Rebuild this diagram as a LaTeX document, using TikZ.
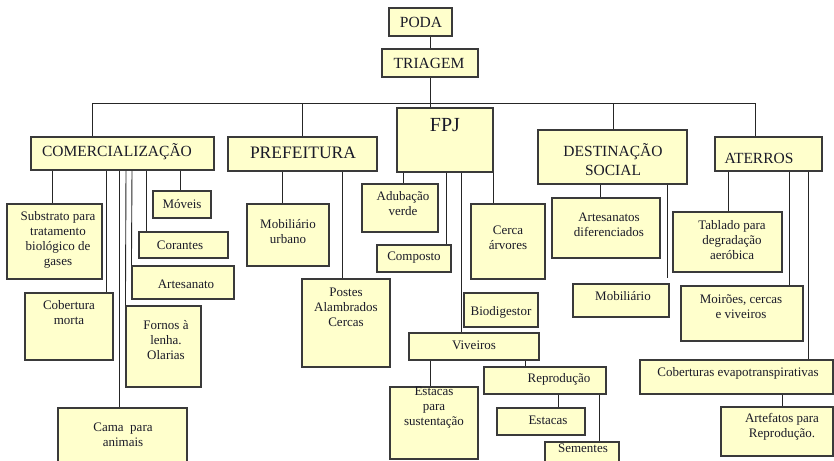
\documentclass[tikz,border=0pt]{standalone}
\usepackage{fontspec}
\setmainfont{Liberation Serif}
\usetikzlibrary{fit}
\definecolor{boxfill}{HTML}{FFFFCC}
\definecolor{boxline}{HTML}{3A3A3A}
\definecolor{txtcol}{HTML}{1A1A28}
\newcommand\mybox[5]{\node[bx, fit={(#2,#3) (#4,#5)}] (#1) {};}
\begin{document}
\begin{tikzpicture}[x=1pt,y=-1pt,
  bx/.style={draw=boxline, line width=1.1pt, fill=boxfill, inner sep=0pt},
  tx/.style={font=\fontsize{13}{15}\selectfont, align=center, inner sep=0pt, text=txtcol},
  hd/.style={font=\fontsize{15.5}{19}\selectfont, align=center, inner sep=0pt, text=txtcol},
  ln/.style={draw=black!85, line width=0.9pt}]
\useasboundingbox[fill=white] (0,0) rectangle (834,460);

% ---- connectors (drawn first, boxes on top) ----
\coordinate (barL) at (92,103);
\coordinate (barR) at (755,103);

% ---- boxes ----
\mybox{poda}{389}{8}{452}{36}
\mybox{tri}{382}{49}{478}{77}
\mybox{comm}{31}{137}{214}{170}
\mybox{pref}{228}{137}{377}{171}
\mybox{fpj}{397}{108}{493}{172}
\mybox{dest}{538}{130}{687}{184}
\mybox{ater}{715}{137}{822}{171}

\mybox{sub}{7}{204}{102}{279}
\mybox{cob}{25}{293}{113}{360}
\mybox{cama}{58}{408}{187}{470}
\mybox{fornos}{126}{306}{201}{387}
\mybox{artes}{132}{266}{234}{299}
\mybox{cor}{139}{232}{228}{258}
\mybox{mov}{153}{191}{211}{218}

\mybox{mob}{247}{204}{329}{266}
\mybox{post}{302}{279}{390}{367}

\mybox{adub}{362}{184}{438}{232}
\mybox{comp}{377}{245}{451}{272}
\mybox{cerca}{471}{204}{545}{279}
\mybox{bio}{464}{293}{538}{327}
\mybox{viv}{409}{333}{539}{360}
\mybox{est1}{390}{387}{478}{459}
\mybox{rep}{484}{367}{606}{394}
\mybox{est2}{497}{408}{585}{435}
\mybox{sem}{545}{442}{619}{470}

\mybox{artd}{552}{198}{660}{258}
\mybox{mobl}{573}{284}{669}{317}
\mybox{tab}{673}{212}{782}{272}
\mybox{moi}{681}{286}{803}{341}
\mybox{cobev}{640}{360}{833}{394}
\mybox{artef}{721}{407}{833}{456}

% ---- connectors ----
\begin{scope}[on background layer/.style={}]
\draw[ln] (poda.south -| 430,0) -- (tri.north -| 430,0);
\draw[ln] (tri.south -| 430,0) -- (fpj.north -| 430,0);
\draw[ln] (comm.north -| barL) -- (barL) -- (barR) -- (ater.north -| barR);
\draw[ln] (pref.north -| 302,0) -- (302,103);
\draw[ln] (dest.north -| 613,0) -- (613,103);

\draw[ln] (comm.south -| 52,0) -- (sub.north -| 52,0);
\draw[ln] (comm.south -| 106,0) -- (cob.north -| 106,0);
\draw[ln] (comm.south -| 119,0) -- (cama.north -| 119,0);
\draw[ln] (comm.south -| 126,0) -- (fornos.north west);
\draw[ln] (comm.south -| 132,0) -- (artes.north west);
\draw[ln] (comm.south -| 146,0) -- (cor.north -| 146,0);
\draw[ln] (comm.south -| 180,0) -- (mov.north -| 180,0);

\draw[ln] (pref.south -| 282,0) -- (mob.north -| 282,0);
\draw[ln] (pref.south -| 342,0) -- (post.north -| 342,0);

\draw[ln] (fpj.south -| 403,0) -- (adub.north -| 403,0);
\draw[ln] (fpj.south -| 446,0) -- (comp.north -| 446,0);
\draw[ln] (fpj.south -| 461,0) -- (viv.north -| 461,0);
\draw[ln] (fpj.south east) -- (cerca.north -| fpj.south east);

\draw[ln] (viv.south -| 430,0) -- (est1.north -| 430,0);
\draw[ln] (viv.south -| 525,0) -- (rep.north -| 525,0);
\draw[ln] (rep.south -| 558,0) -- (est2.north -| 558,0);
\draw[ln] (rep.south -| 599,0) -- (sem.north -| 599,0);

\draw[ln] (dest.south -| 600,0) -- (artd.north -| 600,0);
\draw[ln, shorten >=5pt] (dest.south -| 667,0) -- (mobl.north -| 667,0);

\draw[ln] (ater.south -| 728,0) -- (tab.north -| 728,0);
\draw[ln] (ater.south -| 789,0) -- (moi.north -| 789,0);
\draw[ln] (ater.south -| 808,0) -- (cobev.north -| 808,0);
\draw[ln] (cobev.south -| 782,0) -- (artef.north -| 782,0);
\end{scope}

% ---- texts ----
\node[hd] (t-poda) at (421,22) {PODA};
\node[hd] (t-tri) at (429,63) {TRIAGEM};
\node[hd] (t-comm) at (117,152) {COMERCIALIZAÇÃO};
\node[hd, font=\fontsize{17.5}{20}\selectfont] (t-pref) at (303,153) {PREFEITURA};
\node[hd, font=\fontsize{20}{22}\selectfont] (t-fpj) at (445,125) {FPJ};
\node[hd] (t-dest) at (613,160) {DESTINAÇÃO\\SOCIAL};
\node[hd] (t-ater) at (759,158) {ATERROS};

\node[tx] (t-sub) at (58,240) {Substrato para\\tratamento\\biológico de\\gases};
\node[tx] (t-cob) at (69,313) {Cobertura\\morta};
\node[tx] (t-cama) at (123,435) {Cama\ \ para\\animais};
\node[tx] (t-fornos) at (166,340) {Fornos à\\lenha.\\Olarias};
\node[tx] (t-artes) at (186,284) {Artesanato};
\node[tx] (t-cor) at (180,245) {Corantes};
\node[tx] (t-mov) at (182,204) {Móveis};

\node[tx] (t-mob) at (288,232) {Mobiliário\\urbano};
\node[tx] (t-post) at (346,307) {Postes\\Alambrados\\Cercas};

\node[tx] (t-adub) at (403,204) {Adubação\\verde};
\node[tx] (t-comp) at (414,258) {Composto};
\node[tx] (t-cerca) at (508,238) {Cerca\\árvores};
\node[tx] (t-bio) at (501,312) {Biodigestor};
\node[tx] (t-viv) at (474,345) {Viveiros};
\node[tx] (t-est1) at (434,408) {Estacas\\para\\sustentação};
\node[tx] (t-rep) at (559,379) {Reprodução};
\node[tx] (t-est2) at (548,420) {Estacas};
\node[tx] (t-sem) at (583,448) {Sementes};

\node[tx] (t-artd) at (609,225) {Artesanatos\\diferenciados};
\node[tx] (t-mobl) at (623,296) {Mobiliário};
\node[tx] (t-tab) at (732,240) {Tablado para\\degradação\\aeróbica};
\node[tx] (t-moi) at (741,307) {Moirões, cercas\\e viveiros};
\node[tx] (t-cobev) at (738,373) {Coberturas evapotranspirativas};
\node[tx] (t-artef) at (782,427) {Artefatos para\\Reprodução.};
\end{tikzpicture}
\end{document}
